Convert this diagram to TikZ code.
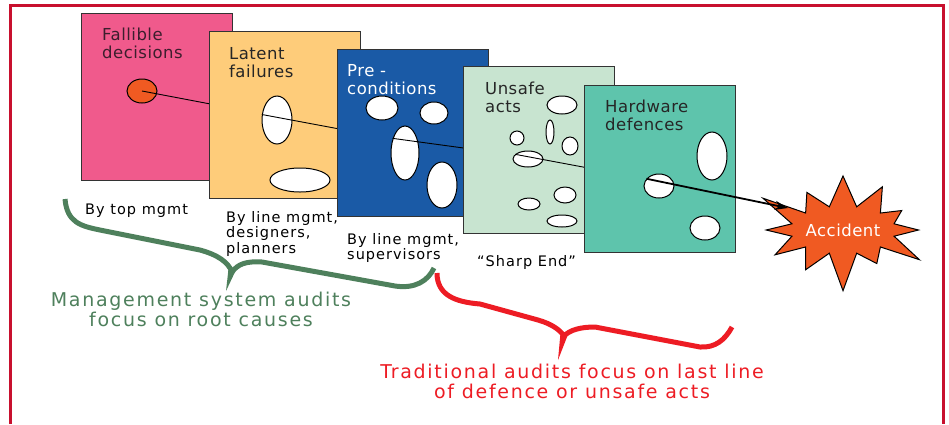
\documentclass[tikz,border=0pt]{standalone}
\usepackage{fontspec}
\setmainfont{DejaVu Sans}
\newfontfamily\cardfont[LetterSpace=3]{DejaVu Sans}
\newfontfamily\notefont[LetterSpace=7]{DejaVu Sans}
\newfontfamily\auditfont[LetterSpace=9]{DejaVu Sans}
\usetikzlibrary{positioning,shapes.geometric,shapes.symbols,arrows.meta}

\definecolor{framered}{RGB}{200,16,46}
\definecolor{pinkcard}{RGB}{240,90,140}
\definecolor{yellowcard}{RGB}{254,204,122}
\definecolor{bluecard}{RGB}{26,90,166}
\definecolor{palecard}{RGB}{200,228,208}
\definecolor{tealcard}{RGB}{94,196,172}
\definecolor{hitorange}{RGB}{240,90,34}
\definecolor{mgmtgreen}{RGB}{78,128,92}
\definecolor{auditred}{RGB}{237,28,36}
\definecolor{titledark}{RGB}{60,30,45}

\begin{document}
\begin{tikzpicture}[x=1pt,y=-1pt]
\tikzstyle{every node}=[inner sep=0pt]
\tikzstyle{card}=[draw=black!80, line width=1.2pt, anchor=north west, minimum width=151pt, minimum height=167pt]
\tikzstyle{title}=[font=\cardfont\fontsize{16.5}{18}\selectfont, align=left, anchor=north west, text=black!85]
\tikzstyle{note}=[font=\notefont\fontsize{14.5}{15.5}\selectfont, align=left, anchor=north west]
\tikzstyle{audit}=[font=\auditfont\fontsize{19}{20}\selectfont, align=center, anchor=north]
\tikzstyle{hole}=[ellipse, draw=black, fill=white, line width=1pt]
\tikzstyle{ray}=[black, line width=0.9pt]
\tikzstyle{shot}=[black, line width=1.8pt, -{Stealth[length=13pt,width=9pt]}]
\tikzstyle{brace}=[line width=5pt, line join=round]

\useasboundingbox (0,0) rectangle (949,424);

% outer frame
\draw[framered, line width=3pt] (10,424) -- (10,5) -- (943,5) -- (943,424);

% fallible decisions
\node[card, fill=pinkcard] (c1) at (81,13) {};
\node[title, text=titledark, below right=15pt and 21pt of c1.north west] (t1) {Fallible\\decisions};
\node[hole, fill=hitorange, minimum width=30pt, minimum height=24pt] (fh) at (142,91) {};
\coordinate (r1) at (263,114);
\draw[ray] (fh.center) -- (r1);

% latent failures
\node[card, fill=yellowcard] (c2) at (209,31) {};
\node[title, below right=16pt and 20pt of c2.north west] (t2) {Latent\\failures};
\node[hole, minimum width=30pt, minimum height=48pt] (lh1) at (277,120) {};
\node[hole, minimum width=60pt, minimum height=24pt] (lh2) at (300,180) {};
\coordinate (r2) at (393,139);
\draw[ray] (lh1.160) -- (r2);

% preconditions
\node[card, fill=bluecard] (c3) at (337,49) {};
\node[title, text=white, below right=15pt and 10pt of c3.north west] (t3) {Pre -\\conditions};
\node[hole, minimum width=32pt, minimum height=24pt] (bh1) at (382,108) {};
\node[hole, minimum width=28pt, minimum height=22pt] (bh2) at (434,113) {};
\node[hole, minimum width=28pt, minimum height=54pt] (bh3) at (405,153) {};
\node[hole, minimum width=30pt, minimum height=46pt] (bh4) at (442,185) {};
\coordinate (r3) at (515,155);
\draw[ray] (bh3.130) -- (r3);

% unsafe acts
\node[card, fill=palecard] (c4) at (463,66) {};
\node[title, below right=16pt and 22pt of c4.north west] (t4) {Unsafe\\acts};
\node[hole, minimum width=30pt, minimum height=18pt] (ua) at (562,105) {};
\node[hole, minimum width=8pt, minimum height=24pt] (ub) at (550,132) {};
\node[hole, minimum width=14pt, minimum height=14pt] (uc) at (517,138) {};
\node[hole, minimum width=16pt, minimum height=18pt] (ud) at (570,146) {};
\node[hole, minimum width=30pt, minimum height=16pt] (ue) at (528,159) {};
\node[hole, minimum width=22pt, minimum height=16pt] (uf) at (565,195) {};
\node[hole, minimum width=22pt, minimum height=12pt] (ug) at (529,204) {};
\node[hole, minimum width=30pt, minimum height=12pt] (uh) at (562,221) {};
\coordinate (r4) at (647,179);
\draw[ray] (ue.160) -- (r4);

% hardware defences
\node[card, fill=tealcard] (c5) at (584,85) {};
\node[title, below right=15pt and 21pt of c5.north west] (t5) {Hardware\\defences};
\node[hole, minimum width=30pt, minimum height=48pt] (ta) at (712,156) {};
\node[hole, minimum width=30pt, minimum height=24pt] (tb) at (659,186) {};
\node[hole, minimum width=30pt, minimum height=24pt] (tc) at (705,228) {};

% accident
\node[starburst, draw=black, line width=1pt, fill=hitorange, text=white,
      minimum width=185pt, minimum height=132pt, starburst points=12,
      starburst point height=42pt, font=\cardfont\fontsize{16.5}{18}\selectfont] (acc) at (843,230) {Accident};
\draw[shot] (tb.150) -- ([xshift=-55pt,yshift=22pt]acc.center);

% who makes them
\node[note] (n1) at (85,204) {By top mgmt};
\node[note] (n2) at (226,211) {By line mgmt,\\designers,\\planners};
\node[note] (n3) at (347,233) {By line mgmt,\\supervisors};
\node[note] (n4) at (477,255) {“Sharp End”};

% braces
\draw[mgmtgreen, brace] (65,199) .. controls (67,222) and (80,226) .. (100,230) -- (200,250)
  .. controls (218,255) and (228,262) .. (232,272) .. controls (238,264) and (246,261) .. (262,262)
  -- (395,286) .. controls (415,289) and (428,281) .. (434,268);
\fill[mgmtgreen] (228.5,269) -- (235,272) -- (226,291) -- cycle;
\draw[auditred, brace] (437,273) .. controls (437,295) and (455,302) .. (480,304) -- (538,320)
  .. controls (552,324) and (560,330) .. (564,336) .. controls (570,330) and (580,327) .. (595,327)
  -- (700,347) .. controls (715,348) and (725,340) .. (732,327);
\fill[auditred] (560.5,333) -- (567,337) -- (558,360) -- cycle;

\node[audit, text=mgmtgreen] (g1) at (201,292) {Management system audits\\focus on root causes};
\node[audit, text=auditred] (g2) at (572,364) {Traditional audits focus on last line\\of defence or unsafe acts};
\end{tikzpicture}
\end{document}
